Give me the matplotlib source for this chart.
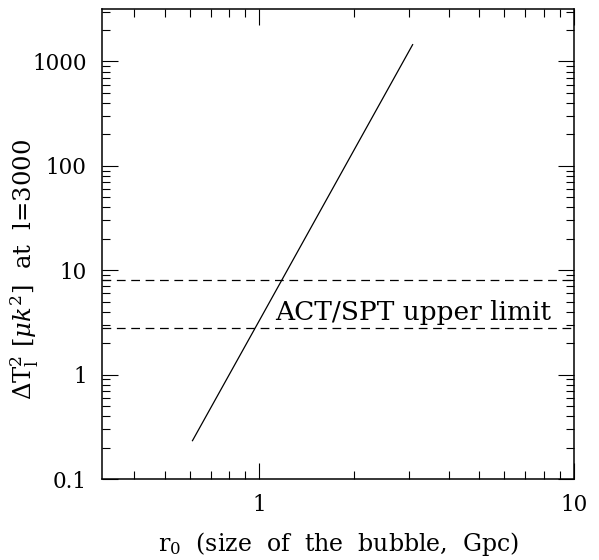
import matplotlib
matplotlib.use('Agg')
import matplotlib.pyplot as plt
from matplotlib.ticker import FixedLocator, NullFormatter, LogLocator

# datos
r0 = [0.613, 1.0, 2.0, 3.07]          # tamano de la burbuja [Gpc]
dT2 = [0.233, 3.3, 142.0, 1450.0]     # Delta T^2 [muK^2] en l=3000
limites = [8.0, 2.8]                  # limite superior ACT/SPT
xticks = [1, 10]
xlabels = ['1', '10']
yticks = [0.1, 1, 10, 100, 1000]
ylabels = ['0.1', '1', '10', '100', '1000']

plt.rcParams['font.family'] = 'DejaVu Serif'
plt.rcParams['mathtext.fontset'] = 'dejavuserif'

fig = plt.figure(figsize=(5.99, 5.60), dpi=100)
ax = fig.add_axes([0.1703, 0.1446, 0.788, 0.8388])
ax.set_xscale('log')
ax.set_yscale('log')
ax.set_xlim(10**-0.5, 10)
ax.set_ylim(0.1, 10**3.5)

ax.plot(r0, dT2, color='k', lw=0.9)
for lim in limites:
    ax.axhline(lim, color='k', lw=0.9, dashes=(7, 4.5))

ax.text(1.12, 3.33, 'ACT/SPT upper limit', fontsize=19,
        ha='left', va='baseline')

ax.xaxis.set_major_locator(FixedLocator(xticks))
ax.set_xticklabels(xlabels)
ax.yaxis.set_major_locator(FixedLocator(yticks))
ax.set_yticklabels(ylabels)
ax.xaxis.set_minor_locator(LogLocator(subs=range(2, 10)))
ax.yaxis.set_minor_locator(LogLocator(subs=range(2, 10), numticks=20))
ax.xaxis.set_minor_formatter(NullFormatter())
ax.yaxis.set_minor_formatter(NullFormatter())

ax.tick_params(which='both', direction='in', top=True, right=True,
               width=0.8, labelsize=15.5)
ax.tick_params(which='major', length=11.5)
ax.tick_params(which='minor', length=5.5)
ax.tick_params(axis='x', pad=11)
ax.tick_params(axis='y', pad=11)
for s in ax.spines.values():
    s.set_linewidth(1.1)

ax.set_xlabel(r'r$_0$  (size  of  the  bubble,  Gpc)', fontsize=17)
ax.set_ylabel(r'$\Delta \mathrm{T}_\mathrm{l}^2\ [\mu k^2]$  at  l=3000',
              fontsize=17.5)
ax.xaxis.set_label_coords(0.5, -0.108)
ax.yaxis.set_label_coords(-0.13, 0.445)

fig.savefig('out.png', dpi=100)
